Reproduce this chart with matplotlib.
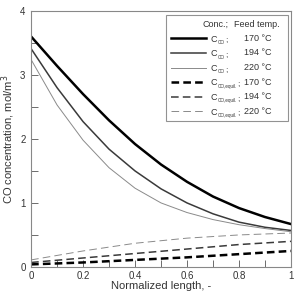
import numpy as np
import matplotlib.pyplot as plt
from matplotlib.lines import Line2D
from matplotlib.ticker import MultipleLocator, FuncFormatter

plt.rcParams['font.family'] = ['Liberation Sans', 'DejaVu Sans']

# normalized length
x = [0.0, 0.1, 0.2, 0.3, 0.4, 0.5, 0.6, 0.7, 0.8, 0.9, 1.0]

# CO concentration, mol/m3
co_170 = [3.60, 3.14, 2.70, 2.29, 1.92, 1.60, 1.33, 1.10, 0.92, 0.78, 0.67]
co_194 = [3.41, 2.80, 2.27, 1.84, 1.50, 1.22, 1.00, 0.83, 0.70, 0.62, 0.57]
co_220 = [3.24, 2.53, 1.98, 1.55, 1.23, 1.00, 0.85, 0.74, 0.66, 0.60, 0.55]

# equilibrium CO concentration
x_eq = [0.0, 0.2, 0.4, 0.6, 0.8, 1.0]
eq_170 = [0.04, 0.07, 0.11, 0.15, 0.20, 0.25]
eq_194 = [0.07, 0.14, 0.21, 0.28, 0.35, 0.40]
eq_220 = [0.11, 0.25, 0.37, 0.45, 0.50, 0.53]

temps = ['170 °C', '194 °C', '220 °C']
subs = ['CO'] * 3 + ['CO,equil.'] * 3
colors = ['black', '#3a3a3a', '#8a8a8a']
widths = [1.8, 1.1, 0.7]
txt_col = '#333333'

fig = plt.figure(figsize=(2.96, 2.94), dpi=100)
ax = fig.add_axes([0.105, 0.092, 0.878, 0.871])

handles = []
for y, c, w in zip([co_170, co_194, co_220], colors, widths):
    h, = ax.plot(x, y, color=c, lw=w)
    handles.append(h)
for y, c, w in zip([eq_170, eq_194, eq_220], colors, widths):
    h, = ax.plot(x_eq, y, color=c, lw=w, ls=(0, (5.5 / w, 3.0 / w)))
    handles.append(h)

ax.set_xlim(0, 1)
ax.set_ylim(0, 4)
ax.xaxis.set_major_locator(MultipleLocator(0.2))
ax.xaxis.set_minor_locator(MultipleLocator(0.1))
ax.yaxis.set_major_locator(MultipleLocator(1))
ax.yaxis.set_minor_locator(MultipleLocator(0.5))
ax.xaxis.set_major_formatter(FuncFormatter(lambda v, p: f'{v:g}'))
ax.tick_params(which='both', direction='in', labelsize=7, colors='#555555',
               labelcolor=txt_col, width=0.6, length=5)
ax.tick_params(axis='x', pad=3)
ax.tick_params(axis='y', pad=4)
for s in ax.spines.values():
    s.set_color('#888888')
    s.set_linewidth(0.8)

ax.set_xlabel('Normalized length, -', fontsize=8, color=txt_col, labelpad=0)
ax.set_ylabel('CO concentration, mol/m$^3$', fontsize=8, color=txt_col, labelpad=2)

# legend: first row is a width placeholder for the header,
# then handle + "C"; subscript, ";" and temperature are added beside
blank = Line2D([], [], lw=0)
leg = ax.legend([blank] + handles, ['Conc.; Feed temp'] + ['C'] * 6,
                loc='upper right', bbox_to_anchor=(0.987, 0.984),
                fontsize=6.5, handlelength=3.9, handletextpad=0.55,
                labelspacing=0.62, frameon=True, fancybox=False,
                borderpad=0.55, borderaxespad=0)
leg.get_frame().set_edgecolor('#777777')
leg.get_frame().set_linewidth(0.8)
for t in leg.get_texts():
    t.set_color(txt_col)
head = leg.get_texts()[0]
head.set_alpha(0)

ax.annotate('Conc.;', xy=(0, 0.5), xycoords=head, xytext=(18, 0),
            textcoords='offset pixels', fontsize=6.5, color=txt_col,
            va='center', ha='right', zorder=6)
ax.annotate('Feed temp.', xy=(0, 0.5), xycoords=head, xytext=(23, 0),
            textcoords='offset pixels', fontsize=6.5, color=txt_col,
            va='center', ha='left', zorder=6)

for h, t, s, ct in zip(leg.legend_handles[1:], temps * 2, subs, leg.get_texts()[1:]):
    sub = ax.annotate(s, xy=(1, 0), xycoords=ct, xytext=(0.2, -1.0),
                      textcoords='offset points', fontsize=3.3, color=txt_col,
                      va='bottom', ha='left', zorder=6)
    ax.annotate(';', xy=(1, 0), xycoords=(sub, ct), xytext=(0, 0),
                textcoords='offset points', fontsize=6, color=txt_col,
                va='bottom', ha='left', zorder=7)
    ax.annotate(t, xy=(1, 0.5), xycoords=h, xytext=(37.5, 0),
                textcoords='offset pixels', fontsize=6.5, color=txt_col,
                va='center', ha='left', zorder=6)

fig.canvas.draw()
fig.savefig('out.png', dpi=100)
